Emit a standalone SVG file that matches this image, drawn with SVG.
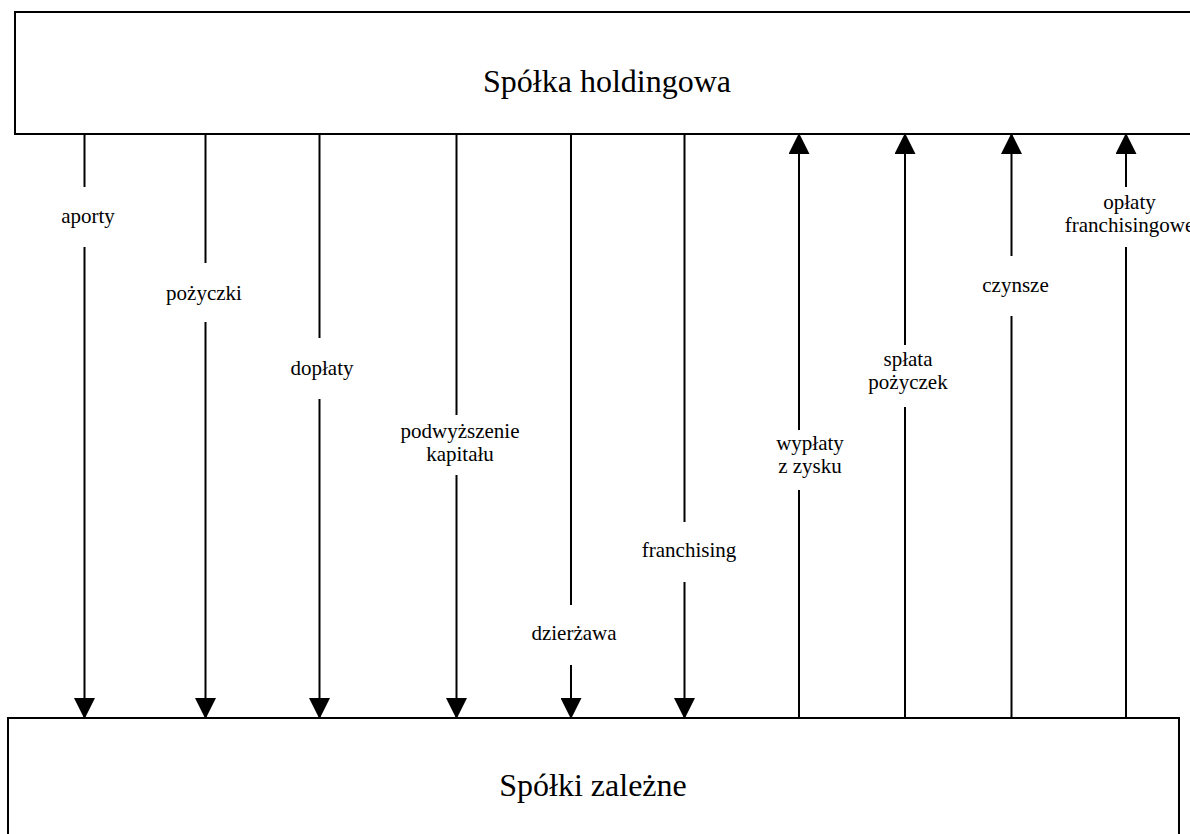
<svg xmlns="http://www.w3.org/2000/svg" width="1190" height="834" viewBox="0 0 1190 834">
<defs>
<style>
.box{fill:#fff;stroke:#000;stroke-width:2}
.conn{stroke:#000;stroke-width:2;fill:none}
.t{font-family:"Liberation Serif","Times New Roman",serif;fill:#000;text-anchor:middle}
.big{font-size:32px}
.lbl{font-size:21px}
</style>
<marker id="ah" markerUnits="userSpaceOnUse" markerWidth="21" markerHeight="21" refX="20" refY="10.5" orient="auto" viewBox="0 0 21 21">
<path d="M0,0 L21,10.5 L0,21 z" fill="#000"/>
</marker>
</defs>
<rect width="1190" height="834" fill="#fff"/>
<g id="holding">
<rect class="box" x="15" y="12" width="1184" height="122"/>
<text class="t big" x="607" y="92">Spółka holdingowa</text>
</g>
<g id="zalezne">
<rect class="box" x="8" y="718" width="1171" height="130"/>
<text class="t big" x="593" y="796">Spółki zależne</text>
</g>
<g id="connectors">
<line class="conn" x1="84.5" y1="134" x2="84.5" y2="187"/>
<line class="conn" x1="84.5" y1="247" x2="84.5" y2="718" marker-end="url(#ah)"/>
<line class="conn" x1="205.5" y1="134" x2="205.5" y2="263"/>
<line class="conn" x1="205.5" y1="322" x2="205.5" y2="718" marker-end="url(#ah)"/>
<line class="conn" x1="319.5" y1="134" x2="319.5" y2="338"/>
<line class="conn" x1="319.5" y1="399" x2="319.5" y2="718" marker-end="url(#ah)"/>
<line class="conn" x1="456.5" y1="134" x2="456.5" y2="415"/>
<line class="conn" x1="456.5" y1="475" x2="456.5" y2="718" marker-end="url(#ah)"/>
<line class="conn" x1="571" y1="134" x2="571" y2="605"/>
<line class="conn" x1="571" y1="665" x2="571" y2="718" marker-end="url(#ah)"/>
<line class="conn" x1="684.5" y1="134" x2="684.5" y2="522"/>
<line class="conn" x1="684.5" y1="582" x2="684.5" y2="718" marker-end="url(#ah)"/>
<line class="conn" x1="799" y1="718" x2="799" y2="490"/>
<line class="conn" x1="799" y1="430" x2="799" y2="134" marker-end="url(#ah)"/>
<line class="conn" x1="905" y1="718" x2="905" y2="407"/>
<line class="conn" x1="905" y1="345" x2="905" y2="134" marker-end="url(#ah)"/>
<line class="conn" x1="1011.5" y1="718" x2="1011.5" y2="316"/>
<line class="conn" x1="1011.5" y1="256" x2="1011.5" y2="134" marker-end="url(#ah)"/>
<line class="conn" x1="1126" y1="718" x2="1126" y2="247"/>
<line class="conn" x1="1126" y1="187" x2="1126" y2="134" marker-end="url(#ah)"/>
</g>
<g id="labels">
<text class="t lbl" x="88" y="223">aporty</text>
<text class="t lbl" x="204" y="300">pożyczki</text>
<text class="t lbl" x="322" y="375">dopłaty</text>
<text class="t lbl" x="460" y="438">podwyższenie</text>
<text class="t lbl" x="460" y="461">kapitału</text>
<text class="t lbl" x="574" y="640">dzierżawa</text>
<text class="t lbl" x="689" y="557">franchising</text>
<text class="t lbl" x="810" y="450">wypłaty</text>
<text class="t lbl" x="810" y="473">z zysku</text>
<text class="t lbl" x="908" y="366">spłata</text>
<text class="t lbl" x="908" y="389">pożyczek</text>
<text class="t lbl" x="1015.5" y="292">czynsze</text>
<text class="t lbl" x="1129.5" y="209">opłaty</text>
<text class="t lbl" x="1129.5" y="232">franchisingowe</text>
</g>
</svg>
